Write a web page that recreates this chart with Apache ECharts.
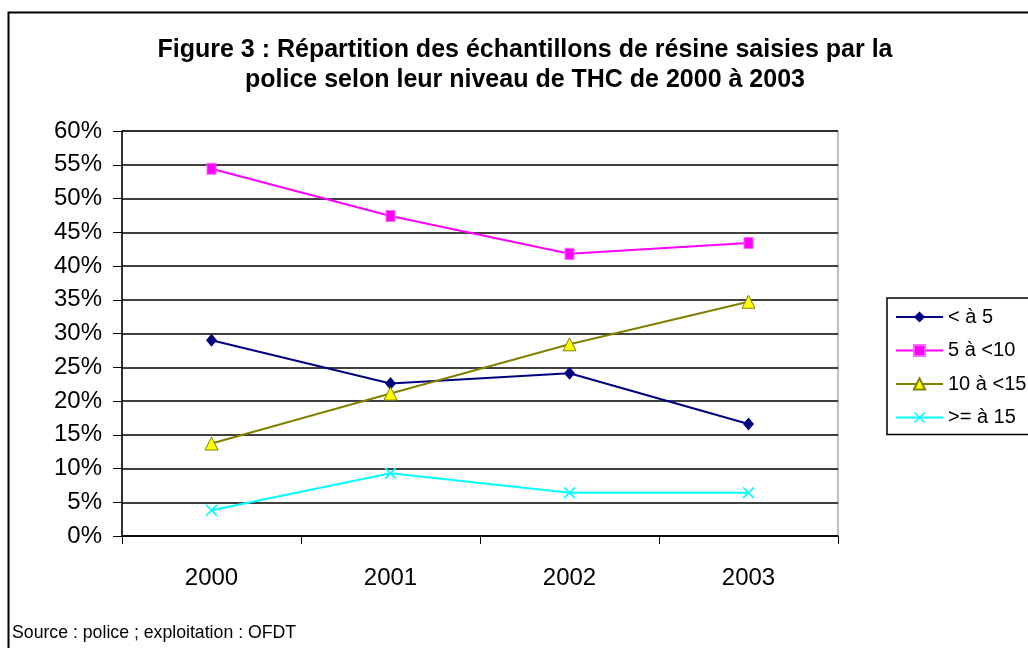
<!DOCTYPE html>
<html>
<head>
<meta charset="utf-8">
<script src="https://cdn.jsdelivr.net/npm/echarts@6/dist/echarts.min.js"></script>
<style>
html,body{margin:0;padding:0;background:#fff;}
#chart{width:1028px;height:648px;}
</style>
</head>
<body>
<div id="chart"></div>
<script>
var categories = ['2000', '2001', '2002', '2003'];
var lessThan5 = [29.0, 22.6, 24.1, 16.6];
var from5to10 = [54.4, 47.4, 41.8, 43.4];
var from10to15 = [13.7, 21.1, 28.4, 34.7];
var atLeast15 = [3.8, 9.3, 6.4, 6.4];
var seriesNames = ['< à 5', '5 à <10', '10 à <15', '>= à 15'];
var yTicks = { min: 0, max: 60, interval: 5 };

var crossPath = 'path://M0,1 L1,0 L5,4 L9,0 L10,1 L6,5 L10,9 L9,10 L5,6 L1,10 L0,9 L4,5 Z';

var chart = echarts.init(document.getElementById('chart'));
chart.setOption({
  animation: false,
  backgroundColor: '#fff',
  title: {
    text: 'Figure 3 : Répartition des échantillons de résine saisies par la\npolice selon leur niveau de THC de 2000 à 2003',
    left: 525, top: 35, textAlign: 'center', padding: 0,
    textStyle: { fontFamily: 'Liberation Sans, Arial', fontWeight: 'bold', fontSize: 25, lineHeight: 30, color: '#000' }
  },
  graphic: [
    { type: 'rect', shape: { x: 8.5, y: 12.5, width: 1040, height: 660 }, style: { fill: 'none', stroke: '#000', lineWidth: 2 }, z: -10 },
    { type: 'text', left: 12, top: 624, style: { text: 'Source : police ; exploitation : OFDT', font: '17.7px "Liberation Sans", Arial', fill: '#000' } }
  ],
  legend: {
    orient: 'vertical',
    left: 887, top: 298,
    width: 200,
    padding: [9, 60, 7, 8],
    itemGap: 13.5,
    itemWidth: 47, itemHeight: 14,
    backgroundColor: '#fff',
    borderColor: '#000', borderWidth: 1.5,
    textStyle: { fontFamily: 'Liberation Sans, Arial', fontSize: 20, lineHeight: 20, color: '#000', padding: [0, 0, 0, 0] },
    data: seriesNames
  },
  grid: {
    left: 122, right: 190, top: 131, bottom: 112,
    show: true, borderColor: '#808080', borderWidth: 1
  },
  xAxis: {
    type: 'category', data: categories, boundaryGap: true,
    axisLine: { lineStyle: { color: '#000', width: 1.5 } },
    axisTick: { show: true, length: 8, inside: false, lineStyle: { color: '#000' } },
    axisLabel: { fontFamily: 'Liberation Sans, Arial', fontSize: 24, color: '#000', margin: 30 }
  },
  yAxis: {
    type: 'value', min: yTicks.min, max: yTicks.max, interval: yTicks.interval,
    axisLine: { show: true, lineStyle: { color: '#000', width: 1.5 } },
    axisTick: { show: true, length: 9, lineStyle: { color: '#000' } },
    splitLine: { lineStyle: { color: '#000', width: 1.5 } },
    axisLabel: { formatter: '{value}%', fontFamily: 'Liberation Sans, Arial', fontSize: 24, color: '#000', margin: 20 }
  },
  series: [
    { name: seriesNames[0], type: 'line', data: lessThan5, symbol: 'diamond', symbolSize: [11, 13],
      lineStyle: { color: '#000080', width: 2 }, itemStyle: { color: '#000080' } },
    { name: seriesNames[1], type: 'line', data: from5to10, symbol: 'rect', symbolSize: [9, 11],
      lineStyle: { color: '#FF00FF', width: 2 }, itemStyle: { color: '#FF00FF', borderColor: '#FF66FF', borderWidth: 1 } },
    { name: seriesNames[2], type: 'line', data: from10to15, symbol: 'triangle', symbolSize: 13,
      lineStyle: { color: '#808000', width: 2 }, itemStyle: { color: '#FFFF00', borderColor: '#808000', borderWidth: 1 } },
    { name: seriesNames[3], type: 'line', data: atLeast15, symbol: crossPath, symbolSize: 12,
      lineStyle: { color: '#00FFFF', width: 2 }, itemStyle: { color: '#00FFFF' } }
  ]
});
</script>
</body>
</html>
